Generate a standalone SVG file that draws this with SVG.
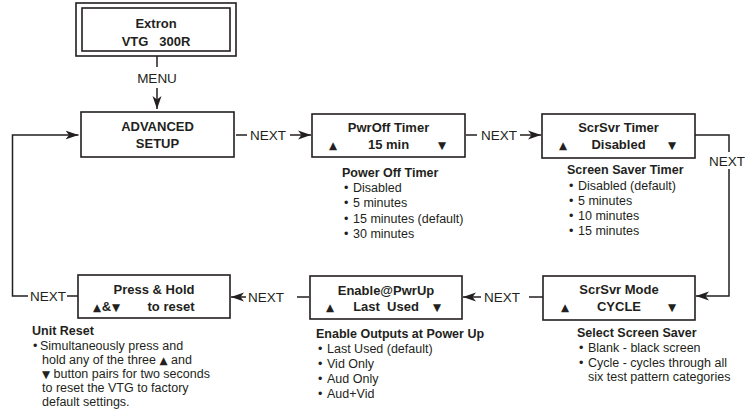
<svg xmlns="http://www.w3.org/2000/svg" width="746" height="418" viewBox="0 0 746 418">
<defs>
<style>
text{font-family:"Liberation Sans",Arial,Helvetica,sans-serif;fill:#231f20}
.bx{font-size:13px;font-weight:bold;text-anchor:middle}
.lbl{font-size:13.5px}
.hd{font-size:12.5px;font-weight:bold}
.li{font-size:12.5px}
.tri{font-family:"DejaVu Sans",sans-serif;font-size:10.5px}
.box{fill:#fff;stroke:#231f20;stroke-width:1.6}
.cn{fill:none;stroke:#231f20;stroke-width:1.5}
</style>
<marker id="ah" markerUnits="userSpaceOnUse" markerWidth="14" markerHeight="10" refX="13" refY="5" orient="auto" viewBox="0 0 14 10">
<path d="M0,0.5 L13,5 L0,9.5 L3.5,5 Z" fill="#231f20"/>
</marker>
</defs>
<rect width="746" height="418" fill="#fff"/>

<g id="connectors">
<path class="cn" d="M157,56 V67"/>
<text class="lbl" x="157" y="83" text-anchor="middle">MENU</text>
<path class="cn" d="M157,88 V109" marker-end="url(#ah)"/>

<path class="cn" d="M236,135 H247"/>
<text class="lbl" x="250" y="140">NEXT</text>
<path class="cn" d="M290,135 H311" marker-end="url(#ah)"/>

<path class="cn" d="M466,135 H477"/>
<text class="lbl" x="481" y="140">NEXT</text>
<path class="cn" d="M520,135 H541" marker-end="url(#ah)"/>

<path class="cn" d="M695,135 H729 V152"/>
<text class="lbl" x="709" y="166">NEXT</text>
<path class="cn" d="M729,169 V296 H696" marker-end="url(#ah)"/>

<path class="cn" d="M543,297 H529"/>
<text class="lbl" x="484" y="302">NEXT</text>
<path class="cn" d="M481,297 H463" marker-end="url(#ah)"/>

<path class="cn" d="M309,297 H297"/>
<text class="lbl" x="248" y="302">NEXT</text>
<path class="cn" d="M246,297 H231" marker-end="url(#ah)"/>

<path class="cn" d="M78,296 H67"/>
<text class="lbl" x="30" y="301">NEXT</text>
<path class="cn" d="M28,296 H12.5 V135 H78.5" marker-end="url(#ah)"/>
</g>

<g id="extron">
<rect class="box" x="76" y="3" width="160" height="53"/>
<rect class="box" x="82" y="8" width="148" height="43" stroke-width="2"/>
<text class="bx" x="156" y="28">Extron</text>
<text class="bx" x="156" y="46" xml:space="preserve">VTG   300R</text>
</g>

<g id="advanced-setup">
<rect class="box" x="81" y="112" width="153" height="45" stroke-width="3.5"/>
<text class="bx" x="157.5" y="131">ADVANCED</text>
<text class="bx" x="157.5" y="148">SETUP</text>
</g>

<g id="pwroff-timer">
<rect class="box" x="312" y="114" width="153" height="43"/>
<text class="bx" x="388.5" y="132">PwrOff Timer</text>
<text class="bx" x="388.5" y="149">15 min</text>
<text class="tri" x="333" y="148.5" text-anchor="middle">▲</text>
<text class="tri" x="442" y="148.5" text-anchor="middle">▼</text>
<text class="hd" x="342" y="177">Power Off Timer</text>
<text class="li" x="344" y="192">•</text><text class="li" x="353" y="192">Disabled</text>
<text class="li" x="344" y="207.3">•</text><text class="li" x="353" y="207.3">5 minutes</text>
<text class="li" x="344" y="222.6">•</text><text class="li" x="353" y="222.6">15 minutes (default)</text>
<text class="li" x="344" y="238">•</text><text class="li" x="353" y="238">30 minutes</text>
</g>

<g id="scrsvr-timer">
<rect class="box" x="542" y="114" width="153" height="44"/>
<text class="bx" x="618.5" y="132">ScrSvr Timer</text>
<text class="bx" x="618.5" y="149">Disabled</text>
<text class="tri" x="563" y="148.5" text-anchor="middle">▲</text>
<text class="tri" x="672" y="148.5" text-anchor="middle">▼</text>
<text class="hd" x="567" y="174">Screen Saver Timer</text>
<text class="li" x="569" y="190">•</text><text class="li" x="578" y="190">Disabled (default)</text>
<text class="li" x="569" y="205">•</text><text class="li" x="578" y="205">5 minutes</text>
<text class="li" x="569" y="220">•</text><text class="li" x="578" y="220">10 minutes</text>
<text class="li" x="569" y="235">•</text><text class="li" x="578" y="235">15 minutes</text>
</g>

<g id="scrsvr-mode">
<rect class="box" x="543" y="276" width="152" height="44"/>
<text class="bx" x="619" y="294">ScrSvr Mode</text>
<text class="bx" x="619" y="311">CYCLE</text>
<text class="tri" x="565" y="310.5" text-anchor="middle">▲</text>
<text class="tri" x="672" y="310.5" text-anchor="middle">▼</text>
<text class="hd" x="577" y="337">Select Screen Saver</text>
<text class="li" x="579" y="352">•</text><text class="li" x="588" y="352">Blank - black screen</text>
<text class="li" x="579" y="367">•</text><text class="li" x="588" y="367">Cycle - cycles through all</text>
<text class="li" x="588" y="381">six test pattern categories</text>
</g>

<g id="enable-pwrup">
<rect class="box" x="310" y="276" width="152" height="43"/>
<text class="bx" x="386" y="295">Enable@PwrUp</text>
<text class="bx" x="386" y="311" xml:space="preserve">Last  Used</text>
<text class="tri" x="330" y="310.5" text-anchor="middle">▲</text>
<text class="tri" x="437" y="310.5" text-anchor="middle">▼</text>
<text class="hd" x="316" y="338">Enable Outputs at Power Up</text>
<text class="li" x="318" y="353">•</text><text class="li" x="327" y="353">Last Used (default)</text>
<text class="li" x="318" y="368">•</text><text class="li" x="327" y="368">Vid Only</text>
<text class="li" x="318" y="383">•</text><text class="li" x="327" y="383">Aud Only</text>
<text class="li" x="318" y="398">•</text><text class="li" x="327" y="398">Aud+Vid</text>
</g>

<g id="press-hold">
<rect class="box" x="78" y="275" width="152" height="43"/>
<text class="bx" x="154" y="294">Press &amp; Hold</text>
<text class="tri" x="97" y="310.5" text-anchor="middle">▲</text>
<text class="bx" x="106.5" y="311">&amp;</text>
<text class="tri" x="116" y="310.5" text-anchor="middle">▼</text>
<text class="bx" x="171" y="311">to reset</text>
<text class="hd" x="32" y="335">Unit Reset</text>
<text class="li" x="33" y="350">•</text><text class="li" x="40" y="350">Simultaneously press and</text>
<text class="li" x="42" y="364">hold any of the three <tspan class="tri">▲</tspan> and</text>
<text class="li" x="42" y="378"><tspan class="tri">▼</tspan> button pairs for two seconds</text>
<text class="li" x="42" y="392">to reset the VTG to factory</text>
<text class="li" x="42" y="406">default settings.</text>
</g>
</svg>
